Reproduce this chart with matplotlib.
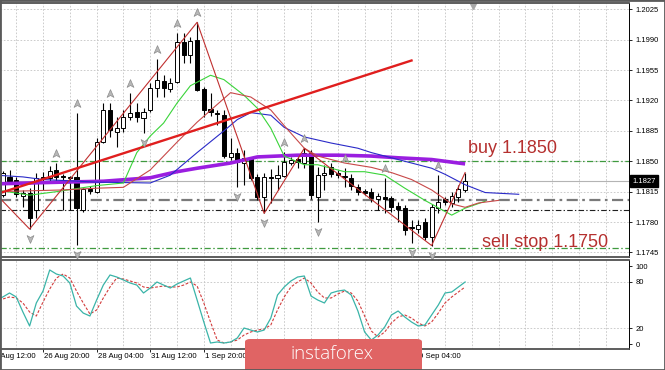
import matplotlib
matplotlib.use("Agg")
import matplotlib.pyplot as plt
import matplotlib.transforms as mtransforms
import numpy as np
from matplotlib.patches import Rectangle, FancyBboxPatch
from matplotlib.path import Path

plt.rcParams["font.family"] = ["Liberation Sans", "DejaVu Sans"]

# H4 bars, index 0 = 25 Aug 12:00
bars = list(range(2, 72))
opens = [1.1811, 1.1832, 1.1828, 1.1810, 1.1814, 1.1794, 1.1832, 1.1831, 1.1840, 1.1833,
         1.1831, 1.1832, 1.1794, 1.1818, 1.1815, 1.1872, 1.1909, 1.1884, 1.1888, 1.1901,
         1.1907, 1.1900, 1.1909, 1.1934, 1.1942, 1.1933, 1.1941, 1.1987, 1.1972, 1.1990,
         1.1933, 1.1910, 1.1906, 1.1903, 1.1855, 1.1860, 1.1848, 1.1853, 1.1832, 1.1809,
         1.1832, 1.1831, 1.1833, 1.1848, 1.1853, 1.1848, 1.1860, 1.1809, 1.1834, 1.1843,
         1.1837, 1.1833, 1.1831, 1.1820, 1.1816, 1.1815, 1.1806, 1.1809, 1.1808, 1.1799,
         1.1796, 1.1774, 1.1772, 1.1780, 1.1763, 1.1796, 1.1806, 1.1802, 1.1809, 1.1817]
highs = [1.1839, 1.1840, 1.1832, 1.1817, 1.1819, 1.1837, 1.1838, 1.1845, 1.1848, 1.1835,
         1.1833, 1.1906, 1.1819, 1.1822, 1.1877, 1.1917, 1.1917, 1.1901, 1.1909, 1.1929,
         1.1917, 1.1911, 1.1940, 1.1968, 1.1949, 1.1946, 1.1998, 1.1998, 1.1993, 1.2010,
         1.1936, 1.1929, 1.1909, 1.1909, 1.1877, 1.1865, 1.1863, 1.1855, 1.1835, 1.1836,
         1.1841, 1.1846, 1.1861, 1.1855, 1.1857, 1.1865, 1.1863, 1.1843, 1.1846, 1.1848,
         1.1840, 1.1842, 1.1835, 1.1824, 1.1818, 1.1819, 1.1814, 1.1831, 1.1810, 1.1803,
         1.1800, 1.1782, 1.1782, 1.1785, 1.1801, 1.1834, 1.1809, 1.1815, 1.1823, 1.1837]
lows = [1.1809, 1.1825, 1.1809, 1.1797, 1.1772, 1.1785, 1.1817, 1.1826, 1.1826, 1.1794,
        1.1794, 1.1754, 1.1792, 1.1812, 1.1814, 1.1871, 1.1878, 1.1867, 1.1884, 1.1898,
        1.1895, 1.1883, 1.1907, 1.1924, 1.1924, 1.1930, 1.1940, 1.1963, 1.1963, 1.1931,
        1.1901, 1.1902, 1.1892, 1.1854, 1.1852, 1.1820, 1.1823, 1.1828, 1.1805, 1.1790,
        1.1802, 1.1817, 1.1832, 1.1846, 1.1842, 1.1842, 1.1806, 1.1780, 1.1817, 1.1832,
        1.1831, 1.1820, 1.1817, 1.1811, 1.1811, 1.1803, 1.1794, 1.1790, 1.1792, 1.1780,
        1.1765, 1.1756, 1.1768, 1.1759, 1.1753, 1.1791, 1.1800, 1.1797, 1.1803, 1.1815]
closes = [1.1836, 1.1827, 1.1812, 1.1814, 1.1785, 1.1831, 1.1830, 1.1839, 1.1832, 1.1832,
          1.1832, 1.1796, 1.1818, 1.1816, 1.1872, 1.1909, 1.1886, 1.1888, 1.1901, 1.1906,
          1.1901, 1.1907, 1.1934, 1.1944, 1.1934, 1.1940, 1.1987, 1.1972, 1.1988, 1.1932,
          1.1909, 1.1907, 1.1904, 1.1856, 1.1860, 1.1849, 1.1854, 1.1831, 1.1809, 1.1832,
          1.1831, 1.1834, 1.1849, 1.1852, 1.1849, 1.1860, 1.1811, 1.1834, 1.1837, 1.1835,
          1.1834, 1.1832, 1.1822, 1.1815, 1.1814, 1.1808, 1.1810, 1.1807, 1.1797, 1.1795,
          1.1771, 1.1773, 1.1777, 1.1763, 1.1797, 1.1803, 1.1803, 1.1810, 1.1818, 1.1827]

# moving averages (sampled bar, price)
purple_bars = [1, 6, 11, 17, 24, 28, 31, 36, 40, 46, 52, 57, 61, 66, 71]
purple_ma = [1.1824, 1.1825, 1.1826, 1.1827, 1.1831, 1.1838, 1.1842, 1.1848, 1.1855,
             1.1857, 1.1857, 1.1856, 1.1854, 1.1852, 1.1847]
blue_bars = [1, 5, 8, 16, 24, 27, 31, 35, 37, 39, 42, 44, 47, 51, 55, 57, 63, 66, 68, 71, 74, 79]
blue_ma = [1.1834, 1.1832, 1.1829, 1.1826, 1.1825, 1.1834, 1.1860, 1.1885, 1.1898, 1.1906,
           1.1903, 1.1889, 1.1878, 1.1871, 1.1865, 1.1860, 1.1848, 1.1842, 1.1835, 1.1823,
           1.1814, 1.1812]
green_bars = [1, 6, 10, 16, 20, 22, 24, 26, 28, 30, 33, 35, 38, 40, 42, 44, 47, 49, 53, 56,
              59, 62, 65, 69, 71, 74]
green_ma = [1.1817, 1.1811, 1.1815, 1.1822, 1.1825, 1.1860, 1.1879, 1.1894, 1.1917, 1.1937,
            1.1949, 1.1944, 1.1926, 1.1911, 1.1888, 1.1856, 1.1846, 1.1846, 1.1838, 1.1838,
            1.1834, 1.1819, 1.1805, 1.1788, 1.1796, 1.1804]
red_bars = [1, 11, 16, 20, 24, 26, 28, 31, 36, 39, 42, 44, 47, 49, 53, 57, 60, 63, 66, 69,
            71, 73, 76]
red_ma = [1.1815, 1.1817, 1.1819, 1.1820, 1.1840, 1.1856, 1.1872, 1.1895, 1.1929, 1.1924,
          1.1909, 1.1891, 1.1865, 1.1856, 1.1848, 1.1843, 1.1837, 1.1829, 1.1817, 1.1801,
          1.1797, 1.1802, 1.1805]

zigzag_bars = [1, 6, 31, 41, 47, 66, 71]
zigzag_px = [1.1812, 1.1772, 1.2010, 1.1790, 1.1865, 1.1753, 1.1837]
trend_bars = [1, 63]
trend_px = [1.1812, 1.1966]

fractal_up = [10, 13, 18, 21, 25, 28, 31, 44, 47, 53, 59, 67]
fractal_dn = [6, 13, 23, 37, 41, 49, 63, 66]

buy_level = 1.1850
sell_level = 1.1750
last_price = 1.1827
level_a = 1.1805
level_b = 1.1794

# stochastic, bars 1..71
stoch_bars = list(range(1, 72))
stoch_main = [56.4, 60.3, 65.4, 60.3, 41.0, 23.1, 52.6, 67.9, 94.9, 89.7, 87.2, 78.2, 48.7,
              39.7, 35.9, 56.4, 75.6, 88.5, 85.9, 82.1, 78.2, 75.6, 65.4, 71.8, 79.5, 75.6,
              71.8, 76.9, 80.8, 84.6, 56.4, 28.2, 1.3, 2.6, 1.3, 2.6, 7.7, 20.5, 17.9, 15.4,
              17.9, 33.3, 62.8, 73.1, 80.8, 85.9, 87.2, 61.5, 56.4, 52.6, 65.4, 67.9, 69.2,
              62.8, 42.3, 15.4, 5.1, 11.5, 21.8, 37.2, 42.3, 34.6, 28.2, 23.1, 24.4, 37.2,
              50.0, 65.4, 66.7, 73.1, 79.5]
stoch_signal = [53.8, 57.7, 60.3, 59.0, 52.6, 41.0, 35.9, 53.8, 70.5, 84.6, 89.7, 84.6, 67.9,
                52.6, 38.5, 43.6, 59.0, 73.1, 84.6, 83.3, 80.8, 78.2, 73.1, 71.8, 73.1, 74.4,
                73.1, 73.1, 75.6, 79.5, 74.4, 52.6, 28.2, 5.1, 1.3, 2.6, 5.1, 11.5, 15.4,
                17.9, 19.2, 24.4, 43.6, 60.3, 73.1, 79.5, 84.6, 78.2, 66.7, 59.0, 59.0, 64.1,
                67.9, 65.4, 55.1, 35.9, 16.7, 9.0, 15.4, 26.9, 34.6, 37.2, 33.3, 26.9, 23.1,
                28.2, 39.7, 52.6, 60.3, 66.7, 73.1]

price_ticks = [1.2025, 1.1990, 1.1955, 1.1920, 1.1885, 1.1850, 1.1815, 1.1780, 1.1745]
tick_bars = [8, 16, 24, 32, 40, 48, 56, 64]
# labels left visible by the logo
label_bars = [0, 8, 16, 24, 32, 64]
time_labels = ["25 Aug 12:00", "26 Aug 20:00", "28 Aug 04:00", "31 Aug 12:00", "1 Sep 20:00",
               "9 Sep 04:00"]

W, H = 665, 370
fig = plt.figure(figsize=(W / 100, H / 100), dpi=100)
ax = fig.add_axes([0, 1 - 257 / H, 629 / W, 254 / H])
ax2 = fig.add_axes([0, 1 - 349 / H, 629 / W, 89 / H])

XLIM = (1.58, 95.46)
GRID = dict(color="#c4c4c4", lw=0.6, ls=(0, (2, 2)), zorder=0)
for a in (ax, ax2):
    a.set_xlim(*XLIM)
    for k in range(4, 96, 4):
        a.axvline(k, **GRID)
    a.spines["left"].set_visible(False)
    a.spines["right"].set_color("black")
    a.spines["right"].set_linewidth(0.7)
    for s in ("top", "bottom"):
        a.spines[s].set_color("#505050")
        a.spines[s].set_linewidth(1.3)
    a.yaxis.tick_right()
    a.tick_params(axis="y", length=2.5, width=0.6, pad=2, labelsize=5.5, colors="black")

# ---- main panel
ax.set_ylim(1.17398, 1.20322)
ax.set_yticks(price_ticks)
ax.set_yticklabels([f"{p:.4f}" for p in price_ticks])
ax.tick_params(axis="x", bottom=False, labelbottom=False)
for p in price_ticks:
    ax.axhline(p, **GRID)

ax.axhline(last_price, color="#b4b4b4", lw=0.8, zorder=1)
dashdot = (0, (5, 2, 1.2, 2))
ax.axhline(buy_level, color="#3f9a3f", lw=0.9, ls=dashdot, zorder=1)
ax.axhline(sell_level, color="#3f9a3f", lw=0.9, ls=dashdot, zorder=1)
ax.axhline(level_a, color="#7a7a7a", lw=1.6, ls=dashdot, zorder=1)
ax.axhline(level_b, color="#202020", lw=0.8, ls=dashdot, zorder=1)

x = np.array(bars)
o, h, l, c = (np.array(v) for v in (opens, highs, lows, closes))
up = c >= o
ax.vlines(x, l, h, color="black", lw=0.8, zorder=3)
lo = np.minimum(o, c)
ht = np.maximum(np.abs(c - o), 0.00003)
ax.bar(x[up], ht[up], bottom=lo[up], width=0.62, facecolor="white", edgecolor="black",
       lw=0.7, zorder=3.5)
ax.bar(x[~up], ht[~up], bottom=lo[~up], width=0.62, facecolor="black", edgecolor="black",
       lw=0.7, zorder=3.5)

ax.plot(purple_bars, purple_ma, color="#9a1ee0", lw=2.6, zorder=5, solid_capstyle="butt")
ax.plot(blue_bars, blue_ma, color="#2a2ac8", lw=0.8, zorder=5)
ax.plot(green_bars, green_ma, color="#3ad43a", lw=0.8, zorder=5)
ax.plot(red_bars, red_ma, color="#c84848", lw=0.8, zorder=5)
ax.plot(zigzag_bars, zigzag_px, color="#c03030", lw=0.8, zorder=5)
ax.plot(trend_bars, trend_px, color="#e01e1e", lw=1.7, zorder=6)

arrow = Path([(0, 1), (0.7, -0.6), (0, -0.2), (-0.7, -0.6), (0, 1)],
             [Path.MOVETO, Path.LINETO, Path.LINETO, Path.LINETO, Path.CLOSEPOLY])
arrow_dn = Path([(0, -1), (0.7, 0.6), (0, 0.2), (-0.7, 0.6), (0, -1)],
                [Path.MOVETO, Path.LINETO, Path.LINETO, Path.LINETO, Path.CLOSEPOLY])
idx = {b: i for i, b in enumerate(bars)}
up_tr = mtransforms.offset_copy(ax.transData, fig=fig, x=0, y=9, units="dots")
dn_tr = mtransforms.offset_copy(ax.transData, fig=fig, x=0, y=-9, units="dots")
ax.plot(fractal_up, [highs[idx[b]] for b in fractal_up], ls="none", marker=arrow, ms=7,
        mfc="#b8b8b8", mec="#8c8c8c", mew=0.5, transform=up_tr, zorder=7, clip_on=False)
ax.plot(fractal_dn, [lows[idx[b]] for b in fractal_dn], ls="none", marker=arrow_dn, ms=7,
        mfc="#b8b8b8", mec="#8c8c8c", mew=0.5, transform=dn_tr, zorder=7, clip_on=False)
ax.plot([72.2], [0.988], ls="none", marker="v", ms=5, color="#a8a8a8",
        transform=mtransforms.blended_transform_factory(ax.transData, ax.transAxes))

ax.text(71.4, 1.18592, "buy 1.1850", color="#b5302f", fontsize=13, va="baseline",
        ha="left", zorder=8)
ax.text(73.5, 1.17513, "sell stop 1.1750", color="#b5302f", fontsize=13, va="baseline",
        ha="left", zorder=8)

ax.text(1.006, last_price, f"{last_price:.4f}", color="white", fontsize=5.5, va="center",
        ha="left", transform=mtransforms.blended_transform_factory(ax.transAxes, ax.transData),
        bbox=dict(boxstyle="square,pad=0.3", fc="black", ec="black"), zorder=9, clip_on=False)

# ---- stochastic panel
ax2.set_ylim(-6.4, 107.7)
ax2.set_yticks([0, 20, 80, 100])
ax2.set_yticklabels(["0", "20", "80", "100"])
for v in (20, 80):
    ax2.axhline(v, **GRID)
ax2.plot(stoch_bars, stoch_main, color="#3ab4a8", lw=0.9, zorder=4)
ax2.plot(stoch_bars, stoch_signal, color="#d23c3c", lw=0.8, ls=(0, (2.5, 1.5)), zorder=3)
ax2.set_xticks(tick_bars)
ax2.tick_params(axis="x", length=2.5, width=0.6, labelbottom=False)
tb = mtransforms.blended_transform_factory(ax2.transData, ax2.transAxes)
for k, lab in zip(label_bars, time_labels):
    ax2.text(k + 0.15, -0.05, lab, transform=tb, ha="left", va="top", fontsize=5.6,
             clip_on=False)

# ---- logo and frame
fig.add_artist(FancyBboxPatch((245 / W, -0.05), 177 / W, 31 / H + 0.05,
                              boxstyle="round,pad=0,rounding_size=0.008",
                              transform=fig.transFigure, fc="#e06464", ec="none", zorder=10))
fig.text(332 / W, 16 / H, "instaforex", color="white", fontsize=13.5, ha="center",
         va="center", family=["Open Sans", "DejaVu Sans"], weight="light", zorder=11)
fig.add_artist(Rectangle((0, 0), 1, 1, transform=fig.transFigure, fill=False,
                         ec="#5a5a5a", lw=2, zorder=12))

fig.savefig("out.png", dpi=100)
